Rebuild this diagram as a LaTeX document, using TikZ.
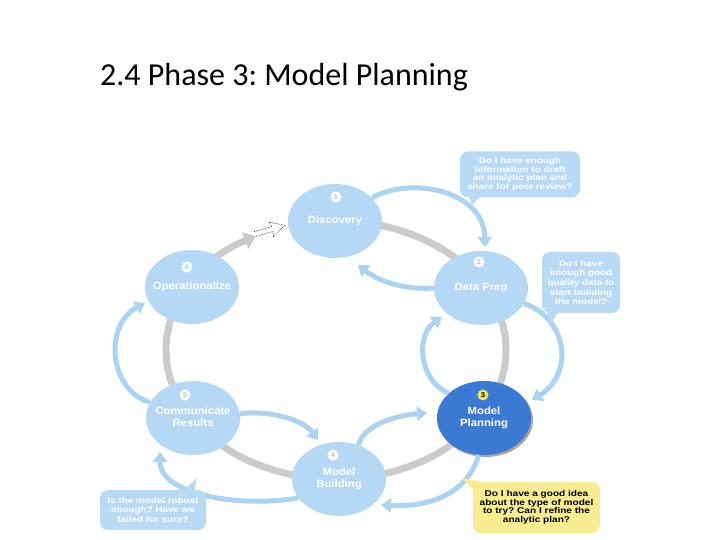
\documentclass[tikz,border=0pt]{standalone}
\usepackage{fontspec}
\setmainfont{Carlito}
\newfontfamily\labfont[FakeStretch=1.08]{Liberation Sans}
\newfontfamily\widefont[FakeStretch=1.2]{Liberation Sans}
\usetikzlibrary{arrows.meta,shapes.geometric,calc}
\frenchspacing
\definecolor{nodeblue}{HTML}{B5D8F4}
\definecolor{arcblue}{HTML}{ACD3F2}
\definecolor{darkblue}{HTML}{3B7AD3}
\definecolor{ringgray}{HTML}{CBCBCB}
\definecolor{bubbleblue}{HTML}{B8DAF5}
\definecolor{bubbleyellow}{HTML}{F7EC8F}
\definecolor{badgetext}{HTML}{A9CCEA}
\definecolor{badgeyellow}{HTML}{F3E35A}
\newcommand{\stg}[1]{\makebox[0pt]{\begin{tabular}{@{}c@{}}#1\end{tabular}}}
\begin{document}
\begin{tikzpicture}[x=1pt,y=1pt,
  stage/.style={ellipse, fill=nodeblue, minimum width=94pt, minimum height=74pt, inner sep=0pt,
    text=white, font=\labfont\bfseries\fontsize{10.5}{11.5}\selectfont},
  badge/.style={circle, fill=white, minimum size=11pt, inner sep=0pt, text=badgetext,
    font=\labfont\bfseries\fontsize{7}{7}\selectfont},
  ring/.style={draw=ringgray, line width=7pt},
  flow/.style={draw=arcblue, line width=5pt, -{Triangle[width=14pt,length=10pt]}},
  bubble/.style={rectangle, rounded corners=8pt, fill=bubbleblue, inner sep=0pt, align=center,
    text=white, font=\widefont\bfseries\fontsize{8.2}{8.5}\selectfont},
  tail/.style={fill=bubbleblue},
]
\useasboundingbox (0,0) rectangle (720,540);

% title
\node[anchor=base west, inner sep=0pt, font=\fontsize{32}{36}\selectfont] (title) at (100,454) {2.4 Phase 3: Model Planning};

% ring with gray arrow towards Discovery
\draw[ring, -{Triangle[width=17pt,length=12pt]}] (336,319) arc[start angle=90, end angle=-242, x radius=170, y radius=129];
\begin{scope}[shift={(255,306)}, rotate=16]
  \draw[densely dotted, line width=0.6pt] (0,2.5) -- (18,2.5) -- (17,7.5) -- (31,0) -- (17,-7.5) -- (18,-2.5) -- (0,-2.5);
\end{scope}

% stages
\node[stage] (disc) at (335,319) {\stg{Discovery}};
\node[stage] (prep) at (481,252) {\stg{Data Prep}};
\fill[black!35] (486,120) ellipse [x radius=47, y radius=37];
\node[stage, fill=darkblue] (plan) at (484,122) {\stg{Model\\Planning}};
\node[stage] (build) at (339,61) {\raisebox{-3pt}{\stg{Model\\Building}}};
\node[stage] (comm) at (193,122) {\stg{Communicate\\Results}};
\node[stage] (oper) at (192,253) {\stg{Operationalize}};

% badges
\node[badge] (b1) at ($(disc.center)+(1,24)$) {1};
\node[badge] (b2) at ($(prep.center)+(-2,26)$) {2};
\node[badge, fill=badgeyellow, text=black] (b3) at ($(plan.center)+(-1,23)$) {3};
\node[badge] (b4) at ($(build.center)+(-6,24)$) {4};
\node[badge] (b5) at ($(comm.center)+(-8,23)$) {5};
\node[badge] (b6) at ($(oper.center)+(-5,20)$) {6};

% flow arcs
\draw[flow] (disc.32) .. controls (410,364) and (484,350) .. ($(prep.center)+(4,41)$);
\draw[flow] (prep.180) .. controls (405,250) and (380,258) .. ($(disc.center)+(23,-44)$);
\draw[flow] (prep.-20) .. controls (568,222) and (574,166) .. ($(plan.center)+(48,18)$);
\draw[flow] (plan.145) .. controls (418,160) and (416,205) .. ($(prep.center)+(-39,-29)$);
\draw[flow] (build.60) .. controls (362,112) and (390,124) .. ($(plan.center)+(-57,5)$);
\draw[flow] (plan.-98) .. controls (465,40) and (420,33) .. ($(build.center)+(42,-26)$);
\draw[flow] (comm.5) .. controls (265,130) and (302,122) .. ($(build.center)+(-21,39)$);
\draw[flow] (build.-155) .. controls (240,32) and (160,45) .. ($(comm.center)+(-33,-34)$);
\draw[flow] (comm.160) .. controls (108,150) and (104,215) .. ($(oper.center)+(-47,-16)$);

% callouts
\coordinate (t1) at (472,335);
\coordinate (t2) at (550,215);
\coordinate (t3) at (197,62);
\coordinate (t4) at (462,62);
\node[bubble, minimum width=120pt, minimum height=46pt] (q1) at (520,365.5)
  {Do I have enough\\information to draft\\an analytic plan and\\share for peer review?};
\fill[tail] ($(q1.south west)+(9,2)$) -- ($(q1.south west)+(22,2)$) -- (t1) -- cycle;
\node[bubble, minimum width=78pt, minimum height=61pt, font=\widefont\bfseries\fontsize{8.2}{9.6}\selectfont] (q2) at (581,257.5)
  {Do I have\\enough good\\quality data to\\start building\\the model?};
\fill[tail] ($(q2.south west)+(5,2)$) -- ($(q2.south west)+(17,2)$) -- (t2) -- cycle;
\node[bubble, minimum width=106pt, minimum height=40pt, font=\widefont\bfseries\fontsize{8.2}{9.6}\selectfont] (q3) at (153,30)
  {Is the model robust\\enough? Have we\\failed for sure?};
\fill[tail] ($(q3.north east)+(-24,-2)$) -- ($(q3.north east)+(-12,-2)$) -- (t3) -- cycle;
\node[bubble, fill=bubbleyellow, text=black, minimum width=127pt, minimum height=51pt, font=\widefont\bfseries\fontsize{8.4}{8.6}\selectfont] (q4) at (536.5,32.5)
  {Do I have a good idea\\about the type of model\\to try? Can I refine the\\analytic plan?};
\fill[bubbleyellow] ($(q4.north west)+(2,-10)$) -- ($(q4.north west)+(12,-1)$) -- (t4) -- cycle;
\end{tikzpicture}
\end{document}
